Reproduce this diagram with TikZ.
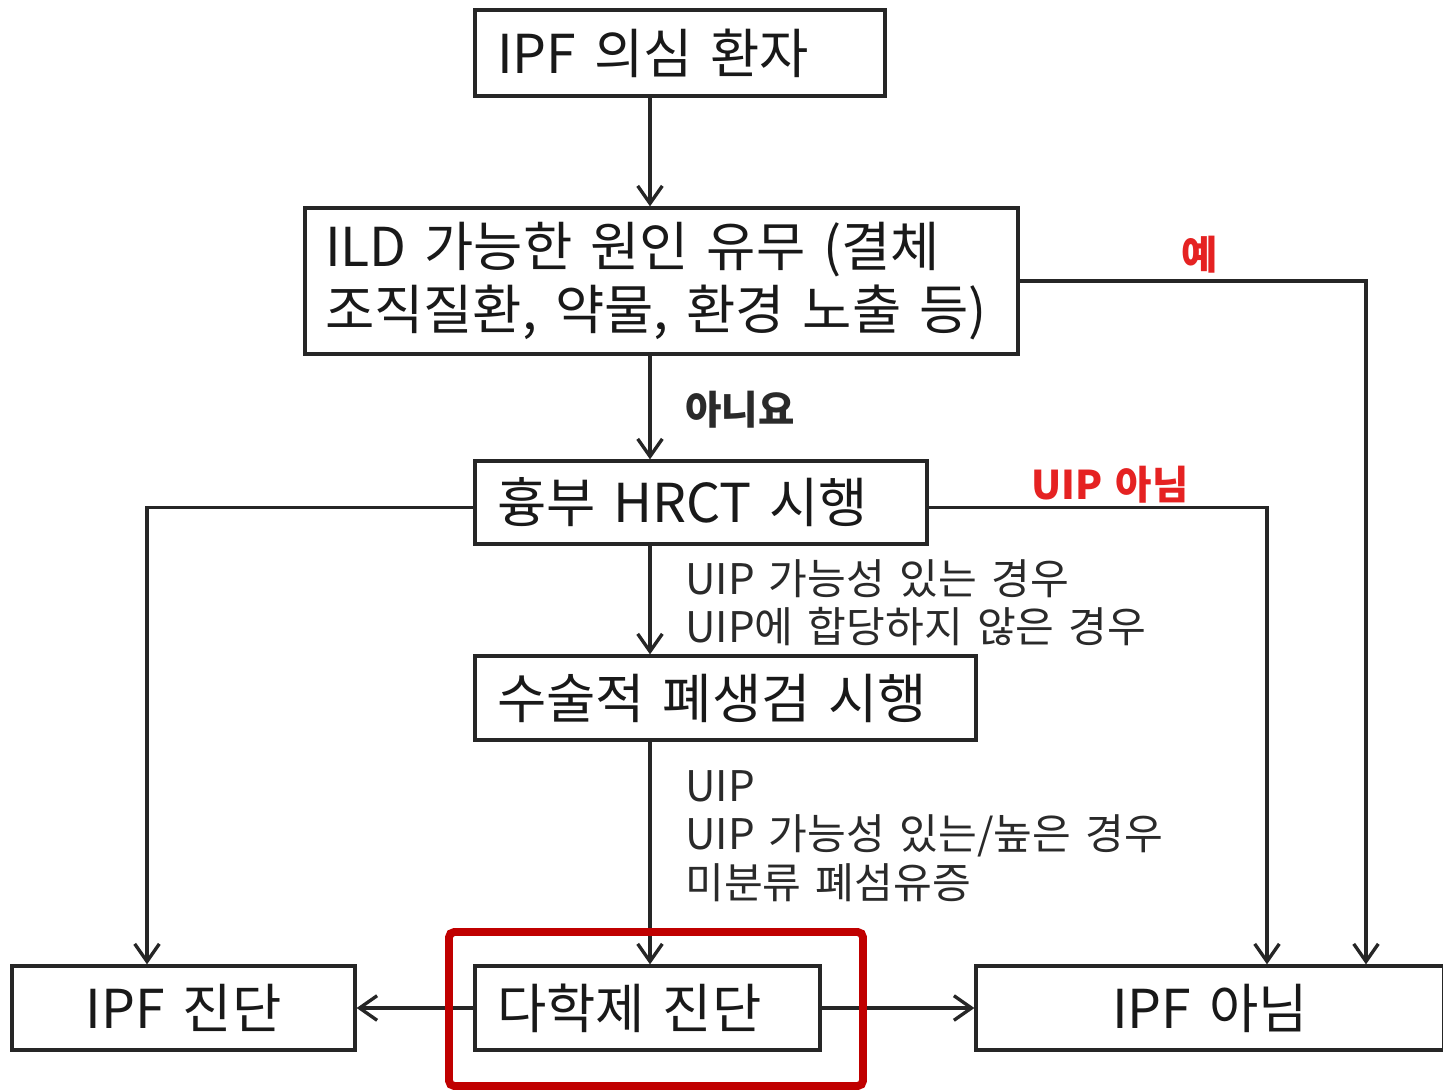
\documentclass[tikz,border=0pt]{standalone}
\usepackage{fontspec}
\setmainfont[WordSpace=1.5]{Noto Sans CJK KR}
\usetikzlibrary{arrows.meta}
\definecolor{redtxt}{HTML}{E52222}
\definecolor{framered}{HTML}{C00000}
\definecolor{labtxt}{HTML}{2A2A2A}
\begin{document}
\begin{tikzpicture}[x=0.02cm,y=-0.02cm,
 box/.style={draw=black!85, line width=1.9pt, inner xsep=0.44cm, inner ysep=0pt,
   font=\fontsize{30.5}{36}\selectfont, text=black!90, align=left},
 arr/.style={line width=1.9pt, draw=black!85, -{Straight Barb[length=10pt,width=14pt,line width=1.9pt]}},
 lab/.style={font=\fontsize{24}{27.5}\selectfont, text=labtxt, anchor=west, align=left, inner sep=0pt},
 blab/.style={font=\fontsize{22.5}{25}\selectfont\bfseries, inner sep=0pt}
]
\useasboundingbox (0,0) rectangle (1443,1089);
\fill[white] (0,0) rectangle (1443,1089);

% boxes
\node[box, minimum width=8.2cm, text width=7.32cm, minimum height=1.72cm] (A) at (680,53) {IPF 의심 환자};
\node[box, inner xsep=0.4cm, minimum width=14.26cm, text width=13.46cm, minimum height=2.92cm] (B) at (661.5,281)
  {ILD 가능한 원인 유무 (결체\\조직질환, 약물, 환경 노출 등)};
\node[box, minimum width=9.04cm, text width=8.16cm, minimum height=1.66cm] (C) at (701,502.5) {흉부 HRCT 시행};
\node[box, minimum width=10.02cm, text width=9.14cm, minimum height=1.68cm] (D) at (725.5,698) {수술적 폐생검 시행};
\node[box, align=center, minimum width=6.86cm, text width=5.98cm, minimum height=1.68cm] (E) at (183.5,1008) {IPF 진단};
\node[box, minimum width=6.9cm, text width=6.02cm, minimum height=1.68cm] (F) at (647.5,1008) {다학제 진단};
\node[box, align=center, minimum width=9.36cm, text width=8.48cm, minimum height=1.68cm] (G) at (1210,1008) {IPF 아님};

% helper x positions
\coordinate (mx) at (650,0);
\coordinate (xl) at (147,0);
\coordinate (xr1) at (1267,0);
\coordinate (xr2) at (1366,0);

% connectors
\draw[arr] (A.south -| mx) -- (B.north -| mx);
\draw[arr] (B.south -| mx) -- (C.north -| mx);
\draw[arr] (C.south -| mx) -- (D.north -| mx);
\draw[arr] (D.south -| mx) -- (F.north -| mx);
\draw[arr] (B.east) -| (G.north -| xr2);
\draw[arr] ([yshift=-0.1cm]C.east) -| (G.north -| xr1);
\draw[arr] ([yshift=-0.1cm]C.west) -| (E.north -| xl);
\draw[arr] (F.west) -- (E.east);
\draw[arr] (F.east) -- (G.west);

% labels
\node[blab, text=labtxt, anchor=west] (lno) at (685,410) {아니요};
\node[blab, text=redtxt] (lyes) at (1200,255) {예};
\node[blab, text=redtxt] (lnotuip) at (1110,485) {UIP 아님};
\node[lab] (lcd) at (685,603) {UIP 가능성 있는 경우\\UIP에 합당하지 않은 경우};
\node[lab] (ldf) at (685,836) {UIP\\UIP 가능성 있는/높은 경우\\미분류 폐섬유증};

% highlight frame
\draw[framered, line width=4.5pt, rounded corners=3pt] (449,932) rectangle (863,1086);
\end{tikzpicture}
\end{document}
